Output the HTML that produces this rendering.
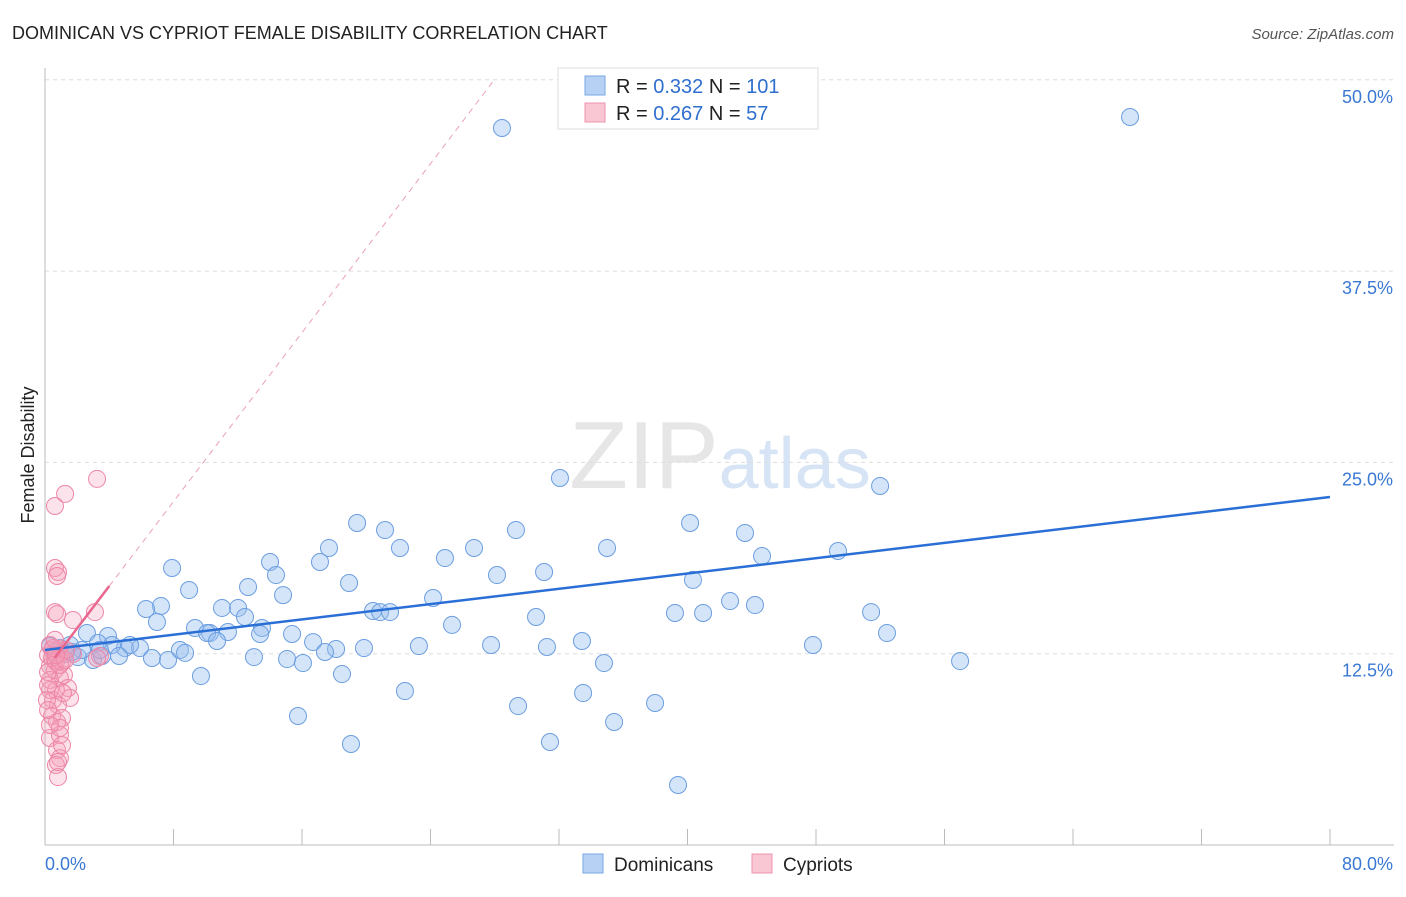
<!DOCTYPE html>
<html><head><meta charset="utf-8"><style>
body{margin:0;background:#fff;font-family:"Liberation Sans",sans-serif}
svg text{font-family:"Liberation Sans",sans-serif}
</style></head><body>
<svg id="chart" width="1406" height="892">
<text x="12" y="39" font-size="18" fill="#222">DOMINICAN VS CYPRIOT FEMALE DISABILITY CORRELATION CHART</text>
<text x="1394" y="39" font-size="15" fill="#555" font-style="italic" text-anchor="end">Source: ZipAtlas.com</text>
<text x="720" y="488" font-size="96" fill="#e6e6e6" text-anchor="middle" font-family="Liberation Serif">ZIP<tspan fill="#d6e4f5" font-family="Liberation Sans" font-size="72">atlas</tspan></text>
<g id="grid"></g><g id="axes"></g><g id="marks"></g>
<text x="34" y="455" font-size="18" fill="#222" transform="rotate(-90 34 455)" text-anchor="middle">Female Disability</text>
<g>
<rect x="558" y="68" width="260" height="61" fill="#fff" stroke="#ddd"/>
<rect x="585" y="76" width="20" height="19" fill="#b7d1f5" stroke="#7aa6e3"/>
<rect x="585" y="103" width="20" height="19" fill="#f9c6d4" stroke="#ee93ae"/>
<text x="616" y="93" font-size="20" fill="#222">R = <tspan fill="#2f6fcf">0.332</tspan>   N = <tspan fill="#2f6fcf">101</tspan></text>
<text x="616" y="120" font-size="20" fill="#222">R = <tspan fill="#2f6fcf">0.267</tspan>   N =  <tspan fill="#2f6fcf">57</tspan></text>
</g>
<g>
<rect x="583" y="854" width="20" height="19" fill="#b7d1f5" stroke="#7aa6e3"/>
<text x="614" y="871" font-size="19" fill="#222">Dominicans</text>
<rect x="752" y="854" width="20" height="19" fill="#f9c6d4" stroke="#ee93ae"/>
<text x="783" y="871" font-size="19" fill="#222">Cypriots</text>
</g>
</svg>
<script>
const yTicks=[12.5,25,37.5,50];
const yTickLabels=["12.5%","25.0%","37.5%","50.0%"];
const xTicks=[0,8,16,24,32,40,48,56,64,72,80];
const xEndLabels=["0.0%","80.0%"];
const domX=[0.1,67.55,32.06,51.99,19.43,21.17,29.32,40.16,43.58,17.68,22.10,26.71,34.99,49.37,44.64,14.01,24.90,17.12,7.91,14.38,28.14,31.07,40.34,18.93,8.97,12.64,14.82,24.16,42.65,7.22,6.29,11.02,12.02,44.20,39.22,40.97,51.43,20.42,20.86,21.48,12.45,30.57,6.97,25.34,9.34,10.27,11.39,10.09,13.51,15.38,2.61,3.92,10.71,13.39,52.42,16.69,33.43,27.77,47.81,23.28,31.25,19.86,18.12,17.43,8.40,8.72,5.91,4.98,5.29,4.17,3.30,1.56,0.93,0.31,0.62,1.25,2.05,2.99,3.55,4.61,6.66,7.66,13.01,15.07,16.06,34.80,56.97,9.71,18.49,22.41,33.50,29.45,37.98,35.43,15.75,19.05,31.44,39.41,2.30,1.68,3.42];
domX[0]=28.45;
const domY=[46.85,47.57,23.98,23.46,21.04,20.58,20.58,21.04,20.39,19.41,19.41,19.41,19.41,19.21,18.88,18.49,18.75,18.49,18.10,17.64,17.64,17.84,17.32,17.12,16.66,16.86,16.33,16.14,15.94,15.62,15.42,15.49,15.49,15.68,15.16,15.16,15.22,15.29,15.22,15.22,14.90,14.90,14.57,14.38,14.18,13.85,13.92,13.85,14.18,13.79,13.85,13.66,13.33,13.79,13.85,13.26,13.33,13.07,13.07,13.00,12.94,12.87,12.81,12.61,12.74,12.55,12.87,12.87,13.07,13.07,13.20,13.07,12.87,13.00,12.61,12.48,12.28,12.09,12.35,12.35,12.22,12.09,12.28,12.15,11.89,11.89,12.02,11.04,11.17,10.06,9.93,9.08,9.28,8.04,8.43,6.60,6.73,3.92,12.74,12.61,12.74];
const cypX=[3.24,1.25,0.62,0.62,0.81,0.75,3.11,0.62,0.75,1.74,0.81,0.93,1.74,0.62,1.06,0.31,0.62,0.93,1.18,0.31,1.43,0.68,1.56,0.50,0.81,0.44,1.06,0.75,0.31,0.93,0.75,0.93,0.68,0.81,0.44,0.19,0.44,0.68,0.19,0.31,0.19,0.93,1.25,3.42,3.24,1.31,0.31,0.50,0.68,0.12,0.93,0.31,1.06,0.81,0.19,1.12,0.62];
const cypY=[23.92,22.94,22.15,18.10,17.84,17.58,15.22,15.22,15.09,14.70,12.81,12.48,12.48,12.09,11.96,11.70,11.43,10.91,11.11,10.78,10.26,10.13,9.61,9.47,9.15,8.43,8.30,8.04,6.99,7.19,6.21,5.68,5.23,4.44,12.74,12.41,12.22,11.96,11.30,10.13,10.45,11.76,12.09,12.35,12.22,12.74,13.07,12.87,12.41,9.47,7.65,7.84,6.53,5.42,8.82,9.93,13.40];
const domTrend=[12.74,22.74];
const cypTrend=[11.4,1.38];
const X=v=>45+v*(1285/80), Y=v=>845-v*(765.2/50);
const NS="http://www.w3.org/2000/svg";
function mk(parent,tag,attrs){const e=document.createElementNS(NS,tag);for(const k in attrs)e.setAttribute(k,attrs[k]);document.getElementById(parent).appendChild(e);return e;}
yTicks.forEach((t,i)=>{
 const g=mk('grid','line',{x1:45,x2:1394,y1:Y(t),y2:Y(t),stroke:'#ddd','stroke-dasharray':'4 4'});
 
 
 const l=mk('axes','text',{x:1393,y:Y(t)+23,'font-size':18,fill:'#3a78d4','text-anchor':'end'});
 l.textContent=yTickLabels[i];
 
 
});
const ya=mk('axes','line',{x1:45,x2:45,y1:68,y2:845,stroke:'#bbb'});


const xa=mk('axes','line',{x1:45,x2:1394,y1:845,y2:845,stroke:'#bbb'});


xTicks.forEach(t=>{
 const tk=mk('axes','line',{x1:X(t),x2:X(t),y1:829,y2:845,stroke:'#bbb'});
 
 
});
const xl0=mk('axes','text',{x:45,y:870,'font-size':18,fill:'#3a78d4'});xl0.textContent=xEndLabels[0];


const xl1=mk('axes','text',{x:1393,y:870,'font-size':18,fill:'#3a78d4','text-anchor':'end'});xl1.textContent=xEndLabels[1];


domX.forEach((v,i)=>{
 const c=mk('marks','circle',{cx:X(v),cy:Y(domY[i]),r:8.5,fill:'rgba(150,190,240,0.4)',stroke:'#6b9ee0','stroke-width':1});
 
 
});
cypX.forEach((v,i)=>{
 const c=mk('marks','circle',{cx:X(v),cy:Y(cypY[i]),r:8.5,fill:'rgba(245,160,185,0.3)',stroke:'#ec87a6','stroke-width':1});
 
 
});
const bt=mk('marks','line',{x1:X(0),y1:Y(domTrend[0]),x2:X(80),y2:Y(domTrend[1]),stroke:'#2a6fd6','stroke-width':2.5});


const pd=mk('marks','line',{x1:X(4),y1:Y(cypTrend[0]+cypTrend[1]*4),x2:X(28),y2:Y(cypTrend[0]+cypTrend[1]*28),stroke:'#eaa0b6','stroke-width':1,'stroke-dasharray':'6 5'});


const ps=mk('marks','line',{x1:X(0.6),y1:Y(cypTrend[0]+cypTrend[1]*0.6),x2:X(4),y2:Y(cypTrend[0]+cypTrend[1]*4),stroke:'#e8688f','stroke-width':2.5});


</script>
</body></html>
